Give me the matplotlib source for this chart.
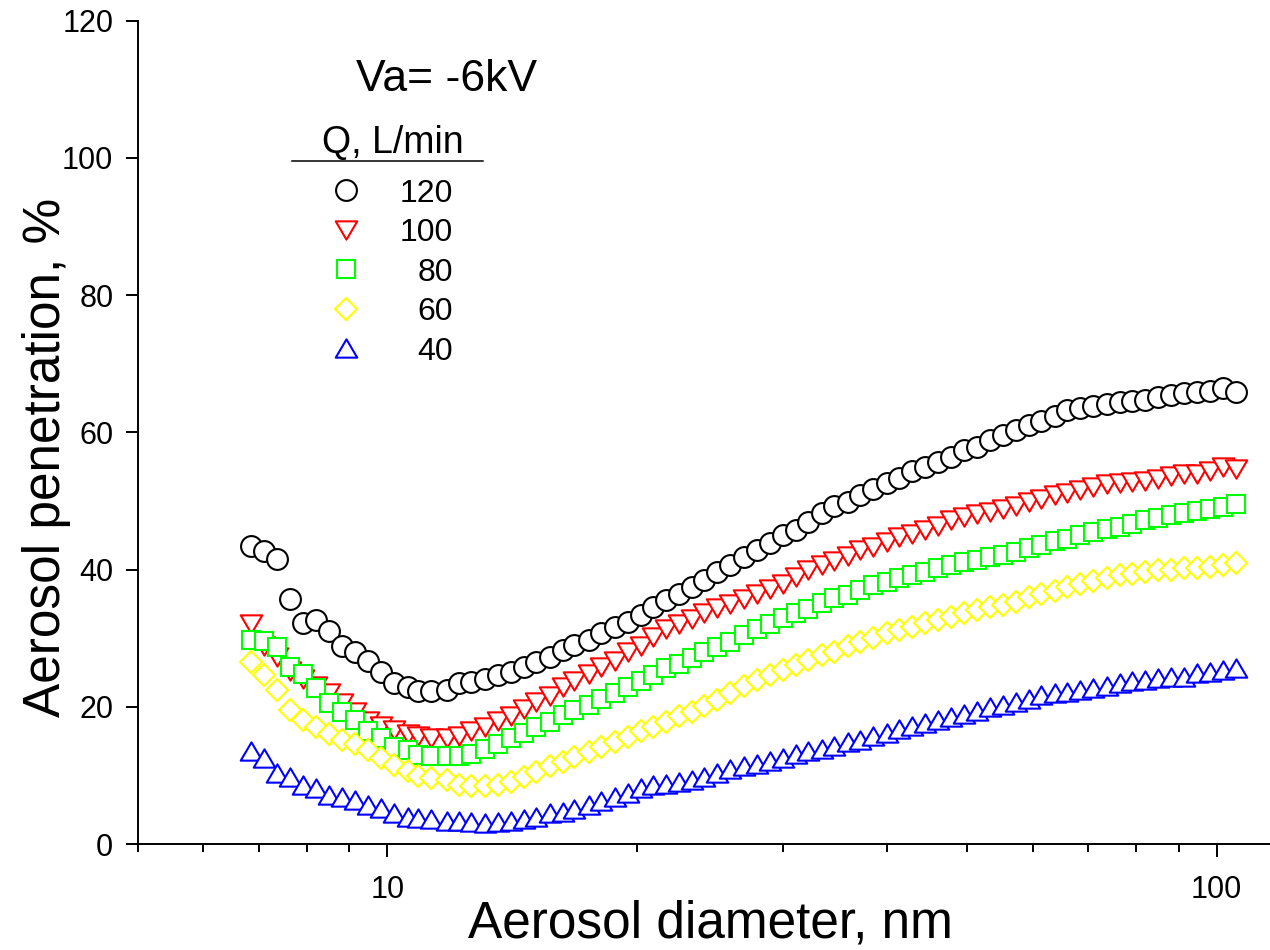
import matplotlib
matplotlib.use('Agg')
import matplotlib.pyplot as plt
from matplotlib.path import Path
from matplotlib.lines import Line2D
from matplotlib.ticker import LogLocator, FuncFormatter, NullFormatter, FixedLocator

plt.rcParams['font.family'] = ['Liberation Sans', 'DejaVu Sans']

# ---------------- data ----------------
diameter_nm = [6.85, 7.10, 7.37, 7.64, 7.91, 8.20, 8.51, 8.82, 9.14, 9.47, 9.82,
               10.2, 10.6, 10.9, 11.3, 11.8, 12.2, 12.6, 13.1, 13.6, 14.1, 14.6,
               15.1, 15.7, 16.3, 16.8, 17.5, 18.1, 18.8, 19.5, 20.2, 20.9, 21.7,
               22.5, 23.3, 24.1, 25.0, 25.9, 26.9, 27.9, 28.9, 30.0, 31.1, 32.2,
               33.4, 34.6, 35.9, 37.2, 38.5, 40.0, 41.4, 42.9, 44.5, 46.1, 47.8,
               49.6, 51.4, 53.3, 55.2, 57.3, 59.4, 61.5, 63.8, 66.1, 68.5, 71.0,
               73.7, 76.4, 79.1, 82.0, 85.1, 88.2, 91.4, 94.7, 98.2, 101.8, 105.5]

pen_q120 = [43.4, 42.7, 41.6, 35.7, 32.2, 32.6, 31.0, 28.8, 28.0, 26.7, 25.1,
            23.5, 22.9, 22.3, 22.3, 22.5, 23.4, 23.6,
            24.1, 24.6, 25.1, 25.8, 26.6, 27.3, 28.3, 29.0, 29.7, 30.7, 31.7,
            32.4, 33.4, 34.6, 35.6, 36.5, 37.5, 38.5, 39.7,
            40.7, 41.9, 42.9, 43.8, 45.0, 45.8, 47.0, 48.2, 49.2, 49.9, 50.9,
            51.8, 52.6, 53.3, 54.3, 55.0, 55.7, 56.4, 57.4, 57.8, 58.9,
            59.6, 60.4, 61.1, 61.7, 62.4, 63.2, 63.5, 63.8, 64.1, 64.4, 64.5,
            64.7, 65.2, 65.5, 65.8, 65.9, 66.0, 66.4, 65.9]

pen_q100 = [32.0, 28.8, 27.2, 25.2, 24.1, 23.0, 22.0, 20.6, 19.3, 18.0, 17.2,
            16.6, 16.1, 15.7, 15.5, 15.5, 15.7, 16.4,
            17.0, 18.0, 18.7, 19.7, 20.7, 21.6, 22.9, 23.8, 24.8, 25.8, 26.7,
            28.0, 28.9, 30.1, 31.4, 32.1, 32.8, 33.6, 34.4,
            35.0, 35.7, 36.5, 37.2, 37.9, 38.9, 39.9, 40.6, 41.3, 42.0, 42.8,
            43.3, 44.0, 44.7, 45.2, 45.7, 46.4, 47.2, 47.6, 48.1, 48.4,
            48.8, 49.3, 49.8, 50.3, 50.8, 51.1, 51.6, 52.1, 52.4, 52.6, 52.7,
            52.9, 53.2, 53.7, 53.9, 54.0, 54.4, 54.9, 54.7]

pen_q80 = [29.8, 29.6, 28.7, 25.8, 24.8, 22.7, 20.5, 19.3, 18.1, 16.5, 15.4,
           14.2, 13.7, 13.0, 12.8, 12.8, 12.8, 13.1,
           13.9, 14.6, 15.4, 16.2, 17.0, 17.8, 18.8, 19.5, 20.3, 21.2, 22.0,
           22.9, 23.7, 24.6, 25.6, 26.3, 27.1, 28.0, 28.7,
           29.5, 30.5, 31.4, 32.1, 32.9, 33.6, 34.3, 35.1, 35.8, 36.3, 37.0,
           37.7, 38.2, 38.7, 39.2, 39.7, 40.2, 40.7, 41.1, 41.4, 41.8,
           42.1, 42.6, 43.1, 43.6, 44.1, 44.5, 45.0, 45.5, 45.9, 46.2, 46.7,
           47.2, 47.5, 47.9, 48.3, 48.6, 48.9, 49.1, 49.6]

pen_q60 = [26.6, 24.6, 22.4, 19.5, 18.1, 17.0, 16.0, 15.1, 14.6, 13.7, 12.6,
           11.5, 10.7, 9.9, 9.6, 9.3, 8.6, 8.4,
           8.5, 8.6, 9.1, 9.8, 10.5, 11.3, 12.0, 12.7, 13.4, 14.2, 14.9,
           15.6, 16.4, 17.1, 17.8, 18.6, 19.3, 20.1, 21.0,
           22.0, 23.0, 23.9, 24.6, 25.4, 26.1, 26.8, 27.5, 28.0, 28.8, 29.5,
           30.0, 30.7, 31.2, 31.7, 32.2, 32.6, 33.1, 33.6, 34.1, 34.6,
           34.8, 35.3, 36.0, 36.4, 36.9, 37.4, 37.9, 38.4, 38.7, 39.2, 39.4,
           39.7, 39.9, 39.9, 40.2, 40.3, 40.4, 40.7, 40.9]

pen_q40 = [13.6, 12.5, 10.3, 9.7, 8.6, 8.2, 7.1, 6.9, 6.4, 5.7, 5.2,
           4.5, 4.0, 3.8, 3.6, 3.3, 3.4, 3.2,
           3.1, 3.2, 3.3, 3.6, 4.0, 4.5, 4.7, 5.1, 5.7, 6.2, 6.9,
           7.4, 8.1, 8.6, 8.8, 9.1, 9.4, 9.8, 10.4,
           10.9, 11.3, 11.7, 12.1, 12.6, 13.1, 13.5, 13.9, 14.3, 14.8, 15.2,
           15.7, 16.2, 16.7, 17.2, 17.6, 18.1, 18.5, 19.0, 19.4, 19.9,
           20.3, 20.7, 21.2, 21.7, 22.0, 22.2, 22.4, 22.7, 23.1, 23.4, 23.7,
           23.9, 24.2, 24.4, 24.4, 24.9, 25.1, 25.4, 25.6]

flows = [120, 100, 80, 60, 40]
series = [pen_q120, pen_q100, pen_q80, pen_q60, pen_q40]
x_ticks = [10, 100]
y_ticks = [0, 20, 40, 60, 80, 100, 120]

# ---------------- styles ----------------
colors = ['#000000', '#FF0000', '#00FF00', '#FFFF00', '#0000FF']
tri_down = Path([(-1, 0.85), (1, 0.85), (0, -0.85), (-1, 0.85)],
                [Path.MOVETO, Path.LINETO, Path.LINETO, Path.CLOSEPOLY])
tri_up = Path([(-1, -0.85), (1, -0.85), (0, 0.85), (-1, -0.85)],
              [Path.MOVETO, Path.LINETO, Path.LINETO, Path.CLOSEPOLY])
markers = ['o', tri_down, 's', 'D', tri_up]
msizes = [15, 15.5, 12.8, 11.3, 15.5]
MEW = 1.5

W, H = 1270, 950
fig = plt.figure(figsize=(W / 100, H / 100), dpi=100)
ax_l, ax_r, ax_t, ax_b = 137.7, 1270, 20.7, 844
ax = fig.add_axes([ax_l / W, 1 - ax_b / H, (ax_r - ax_l) / W, (ax_b - ax_t) / H])

for vals, c, m, s, q in zip(series, colors, markers, msizes, flows):
    ax.plot(diameter_nm, vals, linestyle='none', marker=m, markersize=s,
            markerfacecolor='white', markeredgecolor=c, markeredgewidth=MEW,
            label=str(q), clip_on=False)

ax.set_xscale('log')
ax.set_xlim(5, 116)
ax.set_ylim(0, 120)
for sp in ['top', 'right']:
    ax.spines[sp].set_visible(False)
for sp in ['left', 'bottom']:
    ax.spines[sp].set_linewidth(1.4)

ax.xaxis.set_major_locator(FixedLocator(x_ticks))
ax.xaxis.set_minor_locator(LogLocator(base=10, subs=range(2, 10)))
ax.xaxis.set_major_formatter(FuncFormatter(lambda v, p: f'{v:g}'))
ax.xaxis.set_minor_formatter(NullFormatter())
ax.set_yticks(y_ticks)

ax.tick_params(axis='x', which='major', direction='out', length=9, width=1.4,
               pad=13, labelsize=22)
ax.tick_params(axis='x', which='minor', direction='out', length=5.8, width=1.4)
ax.tick_params(axis='y', which='major', direction='out', length=8.6, width=1.4,
               pad=9, labelsize=22)

ax.set_xlabel('Aerosol diameter, nm', fontsize=37)
ax.xaxis.label.set_va('baseline')
ax.xaxis.set_label_coords((710 - ax_l) / (ax_r - ax_l), (ax_b - 937) / (ax_b - ax_t))
ax.set_ylabel('Aerosol penetration, %', fontsize=37)
ax.yaxis.label.set_va('baseline')
ax.yaxis.set_label_coords((60 - ax_l) / (ax_r - ax_l), (ax_b - 457) / (ax_b - ax_t))

# ---------------- legend block ----------------
def fx(px):
    return px / W

def fy(py):
    return 1 - py / H

fig.text(fx(356), fy(91), 'Va= -6kV', fontsize=32, ha='left', va='baseline')
fig.text(fx(392.5), fy(153.5), 'Q, L/min', fontsize=27, ha='center', va='baseline')
fig.add_artist(Line2D([fx(292), fx(483)], [fy(160.7), fy(160.7)], color='black', lw=1.1))

row0, drow = 190.0, 39.6
for i, (q, c, m, s) in enumerate(zip(flows, colors, markers, msizes)):
    yc = row0 + i * drow
    fig.add_artist(Line2D([fx(345.7)], [fy(yc)], linestyle='none', marker=m,
                          markersize=s, markerfacecolor='white', markeredgecolor=c,
                          markeredgewidth=MEW))
    fig.text(fx(452.7), fy(yc + 11.5), str(q), fontsize=23, ha='right', va='baseline')

fig.savefig('out.png', dpi=100)
